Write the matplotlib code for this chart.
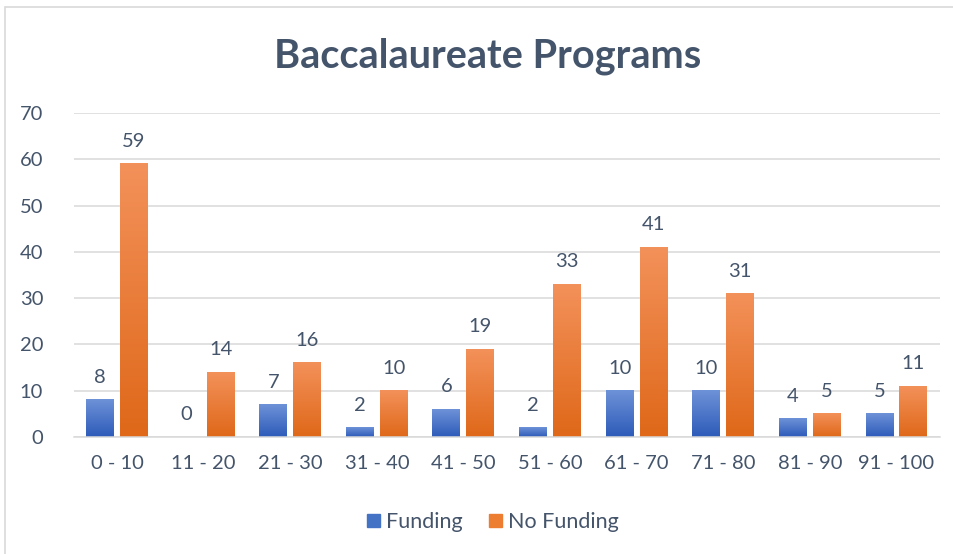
import numpy as np
import matplotlib.pyplot as plt
from matplotlib.colors import LinearSegmentedColormap
from matplotlib.patches import Patch, Rectangle

# data
categories = ['0 - 10', '11 - 20', '21 - 30', '31 - 40', '41 - 50',
              '51 - 60', '61 - 70', '71 - 80', '81 - 90', '91 - 100']
funding = [8, 0, 7, 2, 6, 2, 10, 10, 4, 5]
no_funding = [59, 14, 16, 10, 19, 33, 41, 31, 5, 11]

text_col = '#44546A'
plt.rcParams['font.family'] = ['Lato', 'DejaVu Sans']

fig = plt.figure(figsize=(9.54, 5.54), dpi=100)
ax = fig.add_axes([73.7 / 954, 1 - 437 / 554, (939.8 - 73.7) / 954, 324 / 554])

# chart border (light gray)
fig.patches.append(Rectangle((5 / 954, -0.1), 1.2, (554 - 7) / 554 + 0.1,
                             transform=fig.transFigure, fill=False,
                             edgecolor='#d9d9d9', linewidth=1.2))

blue_cmap = LinearSegmentedColormap.from_list('b', ['#2d5bb9', '#6e92d8'])
orange_cmap = LinearSegmentedColormap.from_list('o', ['#df6819', '#f3915a'])

x = np.arange(len(categories))
w = 0.323
off = 0.196
grad = np.linspace(0, 1, 100).reshape(-1, 1)


def draw_bars(xs, vals, cmap, color):
    bars = ax.bar(xs, vals, width=w, color=color, zorder=2)
    for b, v in zip(bars, vals):
        if v > 0:
            b.set_alpha(0)
            x0 = b.get_x()
            ax.imshow(grad, cmap=cmap, origin='lower', aspect='auto',
                      extent=[x0, x0 + w, 0, v], zorder=2)
        ax.annotate(str(v), (b.get_x() + w / 2, v), xytext=(0, 10),
                    textcoords='offset points', ha='center', va='bottom',
                    fontsize=14.5, color=text_col)


draw_bars(x - off, funding, blue_cmap, '#4472C4')
draw_bars(x + off, no_funding, orange_cmap, '#ED7D31')

ax.set_xlim(-0.5, len(categories) - 0.5)
ax.set_ylim(0, 70)
ax.set_yticks(range(0, 71, 10))
ax.set_xticks(x)
ax.set_xticklabels(categories)
ax.grid(axis='y', color='#d9d9d9', linewidth=1.1, zorder=0)
ax.set_axisbelow(True)
for s in ['top', 'right', 'left']:
    ax.spines[s].set_visible(False)
ax.spines['bottom'].set_color('#d9d9d9')
ax.spines['bottom'].set_linewidth(1.1)
ax.tick_params(axis='both', length=0, labelsize=14.5, labelcolor=text_col)
ax.tick_params(axis='y', pad=22)
ax.tick_params(axis='x', pad=13)

fig.text(488 / 954, 1 - 56 / 554, 'Baccalaureate Programs', ha='center',
         va='center', fontsize=28.5, fontweight='bold', color=text_col)

handles = [Patch(color='#4472C4', label='Funding'),
           Patch(color='#ED7D31', label='No Funding')]
fig.legend(handles=handles, loc='center', bbox_to_anchor=(493 / 954, 1 - 522 / 554),
           ncol=2, frameon=False, fontsize=15.5, labelcolor=text_col,
           handlelength=0.6, handleheight=0.6, handletextpad=0.3, columnspacing=1.2)

fig.savefig('out.png', dpi=100)
